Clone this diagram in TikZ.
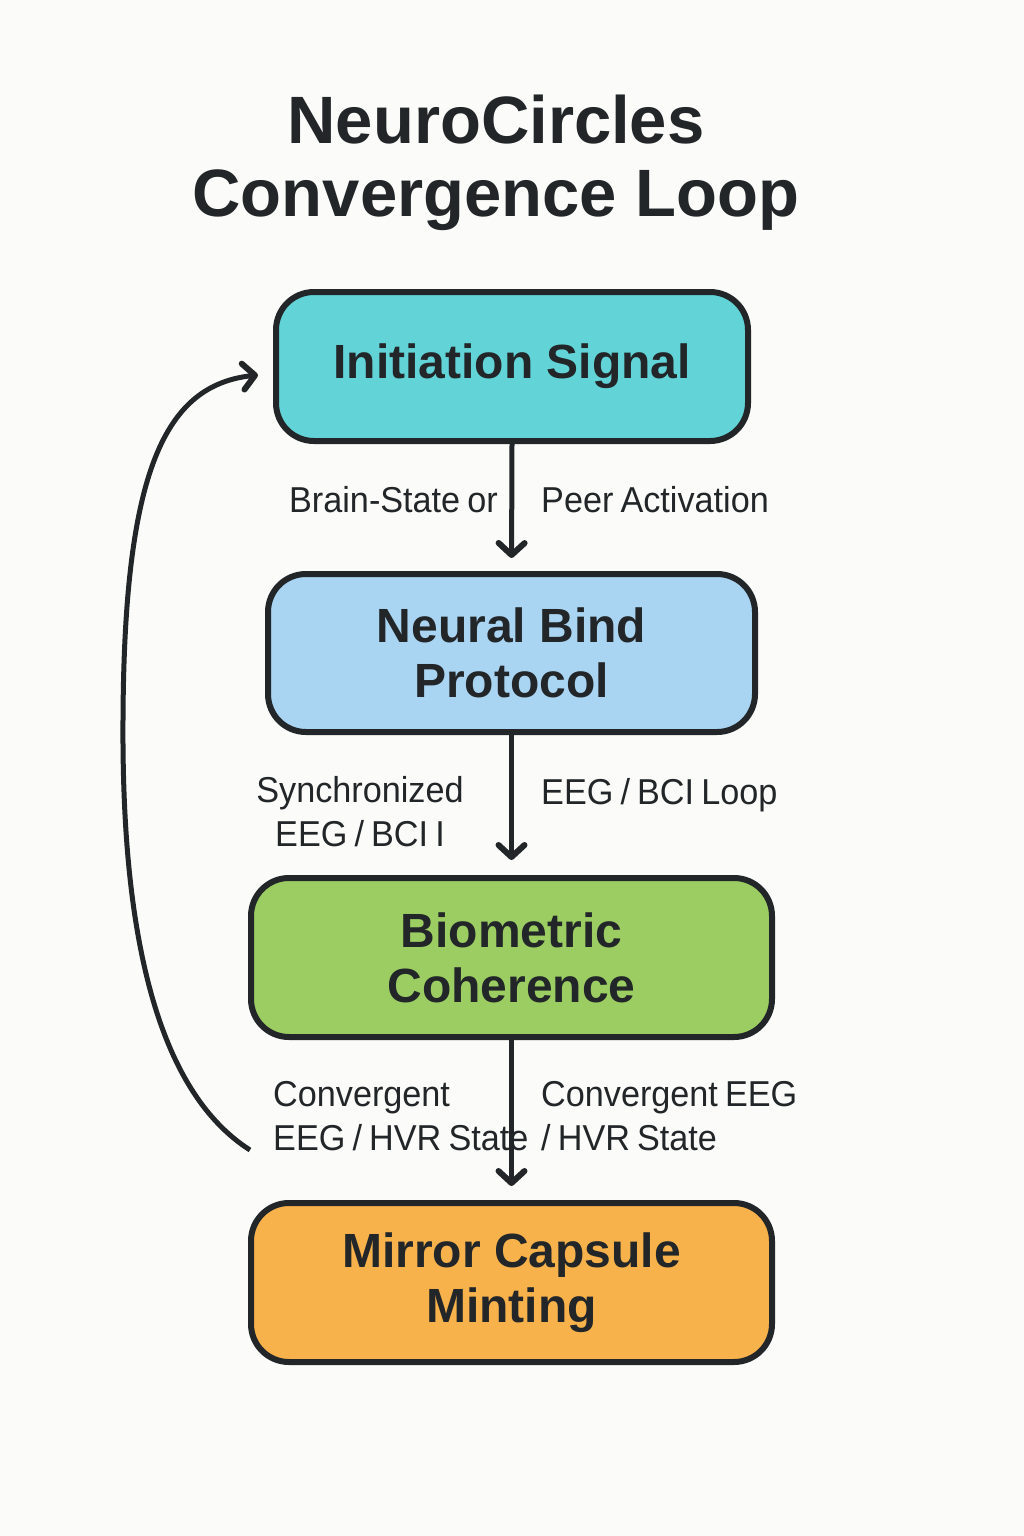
\documentclass[tikz,border=0pt]{standalone}
\usepackage{fontspec}
\setmainfont{Liberation Sans}
\newfontfamily\labelfont[FakeStretch=0.95,WordSpace=0.75]{Liberation Sans}
\usetikzlibrary{arrows.meta}
\definecolor{bg}{HTML}{FBFBF9}
\definecolor{ink}{HTML}{222628}
\definecolor{cyanbox}{HTML}{62D4D8}
\definecolor{bluebox}{HTML}{A9D4F2}
\definecolor{greenbox}{HTML}{9BCD63}
\definecolor{orangebox}{HTML}{F8B24C}
\tikzset{
  stagebox/.style={draw=ink, line width=6pt, rounded corners=38pt, align=center,
    text=ink, font=\fontsize{48}{55}\selectfont\bfseries, inner sep=0pt},
  flowarrow/.style={draw=ink, line width=5pt,
    -{Straight Barb[length=12pt,width=26pt,line width=0pt 1.2,round]}},
  edgelabel/.style={text=ink, font=\labelfont\fontsize{36}{44}\selectfont, inner sep=0pt},
}
\begin{document}
\begin{tikzpicture}[x=1pt,y=-1pt]
\fill[bg] (0,0) rectangle (1024,1536);
\useasboundingbox (0,0) rectangle (1024,1536);
\node[text=ink, font=\fontsize{67}{73}\selectfont\bfseries, align=center, anchor=base] (title) at (496,216) {NeuroCircles\\Convergence Loop};
\node[stagebox, fill=cyanbox, minimum width=472pt, minimum height=149pt] (b1) at (512,366.5) {Initiation Signal};
\node[stagebox, fill=bluebox, minimum width=487pt, minimum height=158pt] (b2) at (511.5,653) {Neural Bind\\Protocol};
\node[stagebox, fill=greenbox, minimum width=521pt, minimum height=159pt] (b3) at (511.5,957.5) {Biometric\\Coherence};
\node[stagebox, fill=orangebox, minimum width=521pt, minimum height=159pt] (b4) at (511.5,1282.5) {Mirror Capsule\\Minting};
\draw[flowarrow, shorten >=13pt] (b1.south) -- (b2.north);
\draw[flowarrow, shorten >=15pt] (b2.south) -- (b3.north);
\draw[flowarrow, shorten >=14pt] (b3.south) -- (b4.north);
\coordinate (loopstart) at (250,1150);
\coordinate (loopend) at (258,375);
\draw[flowarrow] (loopstart) .. controls (140,1080) and (122,880) .. (123,720)
  .. controls (124,470) and (165,385) .. (loopend);
\node[edgelabel, anchor=base east] (l1a) at (498,512) {Brain-State or};
\node[edgelabel, anchor=base west] (l1b) at (541,512) {Peer Activation};
\node[edgelabel, anchor=base, align=center] (l2a) at (360,846) {Synchronized\\EEG / BCI I};
\node[edgelabel, anchor=base west] (l2b) at (541,804) {EEG / BCI Loop};
\node[edgelabel, anchor=base west, align=left] (l3a) at (273,1150) {Convergent\\EEG / HVR State};
\node[edgelabel, anchor=base west, align=left] (l3b) at (541,1150) {Convergent EEG\\/ HVR State};
\end{tikzpicture}
\end{document}
